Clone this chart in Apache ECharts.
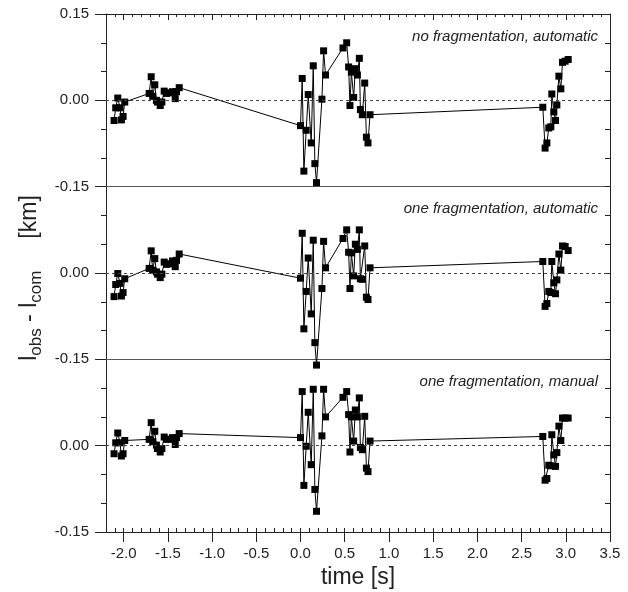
<!DOCTYPE html>
<html><head><meta charset="utf-8">
<script src="https://cdn.jsdelivr.net/npm/echarts@6/dist/echarts.min.js"></script>
<style>html,body{margin:0;padding:0;background:#fff}#c{width:628px;height:592px}</style>
</head><body><div id="c"></div>
<script>
// observation times [s] (shared by the three panels)
const times = [
  -2.109, -2.090, -2.067, -2.041, -2.026, -2.007, -1.988,
  -1.712, -1.689, -1.672, -1.648, -1.630, -1.618, -1.587, -1.568, -1.542, -1.516, -1.485, -1.448, -1.417, -1.402, -1.372,
  0.000, 0.019, 0.038, 0.064, 0.087, 0.121, 0.144, 0.162, 0.181, 0.242, 0.261, 0.283, 0.480, 0.522, 0.544, 0.559, 0.575, 0.601, 0.620, 0.643, 0.665, 0.677, 0.699, 0.726, 0.745, 0.763, 0.786,
  2.740, 2.766, 2.786, 2.808, 2.831, 2.842, 2.865, 2.884, 2.899, 2.922, 2.944, 2.963, 2.993, 3.027
];
// l_obs - l_com [km]
const panel1 = [
  -0.035, -0.013, 0.004, -0.013, -0.034, -0.028, -0.003,
  0.012, 0.041, 0.007, 0.027, 0.000, -0.003, -0.009, -0.003, 0.016, 0.012, 0.013, 0.015, 0.003, 0.015, 0.022,
  -0.044, 0.038, -0.123, -0.052, 0.010, -0.074, 0.060, -0.110, -0.143, 0.002, 0.086, 0.044, 0.091, 0.100, 0.058, -0.009, 0.049, 0.005, 0.055, 0.044, 0.073, -0.016, -0.025, 0.030, -0.064, -0.074, -0.025,
  -0.012, -0.083, -0.074, -0.048, -0.046, 0.011, -0.020, -0.035, -0.008, 0.042, 0.020, 0.066, 0.068, 0.071
];
const panel2 = [
  -0.041, -0.020, -0.001, -0.018, -0.040, -0.034, -0.010,
  0.008, 0.0385, 0.005, 0.025, 0.002, -0.002, -0.008, -0.002, 0.019, 0.015, 0.016, 0.021, 0.011, 0.022, 0.033,
  -0.009, 0.069, -0.097, -0.032, 0.026, -0.071, 0.057, -0.121, -0.160, -0.027, 0.055, 0.009, 0.060, 0.075, 0.036, -0.027, 0.035, -0.005, 0.050, 0.041, 0.075, -0.010, -0.011, 0.047, -0.042, -0.046, 0.009,
  0.020, -0.058, -0.053, -0.032, -0.034, 0.020, -0.017, -0.036, -0.012, 0.033, 0.005, 0.047, 0.046, 0.039
];
const panel3 = [
  -0.014, 0.005, 0.022, 0.005, -0.018, -0.014, 0.009,
  0.011, 0.040, 0.007, 0.025, 0.001, -0.005, -0.011, -0.005, 0.015, 0.011, 0.011, 0.014, 0.002, 0.014, 0.021,
  0.014, 0.094, -0.069, -0.001, 0.058, -0.033, 0.098, -0.076, -0.114, 0.017, 0.098, 0.050, 0.084, 0.094, 0.054, -0.011, 0.050, 0.008, 0.062, 0.050, 0.083, -0.003, -0.007, 0.051, -0.039, -0.045, 0.008,
  0.016, -0.060, -0.057, -0.034, -0.035, 0.019, -0.016, -0.036, -0.012, 0.034, 0.009, 0.048, 0.048, 0.048
];
const panelValues = [panel1, panel2, panel3];
const panelLabels = ['no fragmentation, automatic', 'one fragmentation, automatic', 'one fragmentation, manual'];
const xTicks = [-2.0, -1.5, -1.0, -0.5, 0.0, 0.5, 1.0, 1.5, 2.0, 2.5, 3.0, 3.5];
const xMin = -2.2, xMax = 3.5;
const yMin = -0.15, yMax = 0.15;

const FONT = "'Liberation Sans', Arial, sans-serif";
const INK = '#222';
const L = 106, R = 18, T = 14, H = 172.67;
const chart = echarts.init(document.getElementById('c'));

const grid = [], xAxis = [], yAxis = [], series = [], graphic = [];
for (let i = 0; i < 3; i++) {
  grid.push({left: L, right: R, top: T + i * H, height: H});
  const baseX = xAxis.length;
  xAxis.push({
    gridIndex: i, type: 'value', min: xMin, max: xMax, interval: 0.1, position: 'bottom',
    axisLine: {show: true, onZero: false, lineStyle: {color: i < 2 ? '#555' : INK, width: 1}},
    axisTick: i === 2 ? {show: true, customValues: xTicks, length: 10, lineStyle: {color: INK}} : {show: false},
    axisLabel: i === 2 ? {show: true, customValues: xTicks, formatter: v => v.toFixed(1), margin: 14,
      color: INK, fontSize: 15, fontFamily: FONT} : {show: false},
    splitLine: {show: false},
    name: i === 2 ? 'time [s]' : '', nameLocation: 'middle', nameGap: 34,
    nameTextStyle: {fontSize: 23, color: INK, fontFamily: FONT}
  });
  if (i === 2) {
    xAxis.push({gridIndex: i, type: 'value', min: xMin, max: xMax, interval: 0.1, position: 'bottom',
      axisLine: {show: false, onZero: false}, axisLabel: {show: false}, splitLine: {show: false},
      axisTick: {show: true, inside: true, length: 4, lineStyle: {color: INK}}});
  }
  if (i === 0) {
    xAxis.push({gridIndex: i, type: 'value', min: xMin, max: xMax, interval: 0.1, position: 'top',
      axisLine: {show: true, onZero: false, lineStyle: {color: INK}}, axisLabel: {show: false}, splitLine: {show: false},
      axisTick: {show: true, inside: true, length: 3, lineStyle: {color: INK}}});
    xAxis.push({gridIndex: i, type: 'value', min: xMin, max: xMax, interval: 0.1, position: 'top',
      axisLine: {show: false, onZero: false}, axisLabel: {show: false}, splitLine: {show: false},
      axisTick: {show: true, inside: true, length: 6, customValues: xTicks, lineStyle: {color: INK}}});
  }
  const baseY = yAxis.length;
  yAxis.push({
    gridIndex: i, type: 'value', min: yMin, max: yMax, interval: 0.15, position: 'left',
    axisLine: {show: true, onZero: false, lineStyle: {color: INK}},
    axisTick: {show: true, length: 11, lineStyle: {color: INK}},
    minorTick: {show: true, splitNumber: 3, length: 5, lineStyle: {color: INK}},
    axisLabel: {show: true, showMaxLabel: i === 0, showMinLabel: true, formatter: v => v.toFixed(2),
      margin: 17, color: INK, fontSize: 15, fontFamily: FONT},
    splitLine: {show: false}
  });
  yAxis.push({
    gridIndex: i, type: 'value', min: yMin, max: yMax, interval: 0.05, position: 'right',
    axisLine: {show: true, onZero: false, lineStyle: {color: INK}},
    axisTick: {show: true, inside: true, length: 5, lineStyle: {color: INK}},
    axisLabel: {show: false}, splitLine: {show: false}
  });
  series.push({
    type: 'line', xAxisIndex: baseX, yAxisIndex: baseY,
    data: times.map((t, k) => [t, panelValues[i][k]]),
    symbol: 'rect', symbolSize: 7, showSymbol: true, clip: false,
    itemStyle: {color: '#000'}, lineStyle: {color: '#000', width: 1},
    markLine: {silent: true, symbol: ['none', 'none'], label: {show: false},
      lineStyle: {color: '#444', type: [3, 3], width: 1}, data: [{yAxis: 0}]},
    animation: false
  });
  graphic.push({type: 'text', x: 598, y: [37, 209, 382][i],
    style: {text: panelLabels[i], align: 'right', verticalAlign: 'middle',
      font: 'italic 15px ' + FONT, fill: INK}});
}
graphic.push({type: 'text', x: 30, y: 278, rotation: Math.PI / 2,
  style: {text: '{n|l}{s|obs}{n| - l}{s|com}{n|     [km]}', align: 'center', verticalAlign: 'middle',
    rich: {n: {fontSize: 23, fontFamily: FONT, fill: INK, lineHeight: 30, verticalAlign: 'middle'},
           s: {fontSize: 17, fontFamily: FONT, fill: INK, lineHeight: 30, verticalAlign: 'bottom', padding: [12, 0, 0, 0]}}}});

chart.setOption({animation: false, grid, xAxis, yAxis, series, graphic});
</script></body></html>
